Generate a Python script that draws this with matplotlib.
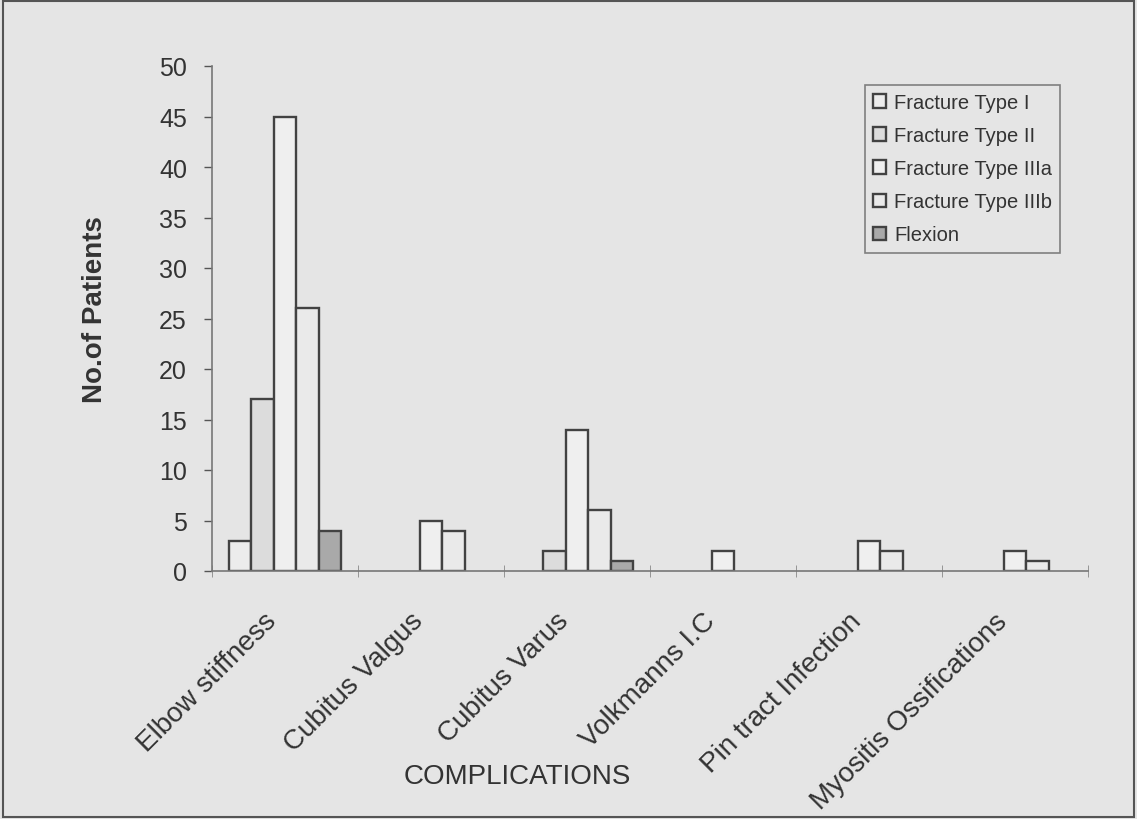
import numpy as np
import matplotlib
matplotlib.use("Agg")
import matplotlib.pyplot as plt
from matplotlib.transforms import ScaledTranslation
from matplotlib.patches import Rectangle

plt.rcParams['font.family'] = ['Liberation Sans', 'DejaVu Sans']

# 数据
categories = ["Elbow stiffness", "Cubitus Valgus", "Cubitus Varus",
              "Volkmanns I.C", "Pin tract Infection", "Myositis Ossifications"]
series_names = ["Fracture Type I", "Fracture Type II", "Fracture Type IIIa",
                "Fracture Type IIIb", "Flexion"]
type_i = [3, 0, 0, 0, 0, 0]
type_ii = [17, 0, 2, 0, 0, 0]
type_iiia = [45, 5, 14, 2, 3, 2]
type_iiib = [26, 4, 6, 0, 2, 1]
flexion = [4, 0, 1, 0, 0, 0]
yticks = [0, 5, 10, 15, 20, 25, 30, 35, 40, 45, 50]

series = [type_i, type_ii, type_iiia, type_iiib, flexion]
fills = ['#ececec', '#dcdcdc', '#efefef', '#eaeaea', '#a9a9a9']
bg = '#e5e5e5'
edge = '#424242'

fig = plt.figure(figsize=(11.37, 8.2), dpi=100, facecolor=bg)
ax = fig.add_axes([212/1137, 1-572/820, 876/1137, 505/820])
ax.set_facecolor(bg)

x = np.arange(len(categories))
w = 0.154
for i, (vals, name, fc) in enumerate(zip(series, series_names, fills)):
    vals = np.array(vals, dtype=float)
    keep = vals > 0          # 0值不画边框
    ax.bar(x[keep] + (i - 2) * w, vals[keep], width=w, color=fc,
           edgecolor=edge, linewidth=1.7, label=name)

ax.set_xlim(-0.5, len(categories) - 0.5)
ax.set_ylim(0, 50)
ax.set_yticks(yticks)
ax.tick_params(axis='y', labelsize=18, colors='#555555', labelcolor='#333333',
               length=6, width=1, pad=12)

for s in ['top', 'right']:
    ax.spines[s].set_visible(False)
for s in ['left', 'bottom']:
    ax.spines[s].set_color('#777777')
    ax.spines[s].set_linewidth(1.2)

# x轴：分隔刻度 + 斜标签
ax.set_xticks(x)
ax.set_xticks(np.arange(-0.5, len(categories)), minor=True)
ax.tick_params(axis='x', which='major', length=0, pad=33)
ax.tick_params(axis='x', which='minor', direction='inout', length=8,
               color='#888888')
ax.set_xticklabels(categories, rotation=45, ha='right', va='center',
                   rotation_mode='anchor', fontsize=20, color='#333333')
for lab in ax.get_xticklabels():
    lab.set_transform(lab.get_transform() +
                      ScaledTranslation(-0.12, 0, fig.dpi_scale_trans))

ax.set_ylabel("No.of Patients", fontsize=20, fontweight='bold', color='#333333')
ax.yaxis.set_label_coords(-0.134, 0.52)
ax.yaxis.label.set_va('center')
ax.set_xlabel("COMPLICATIONS", fontsize=20, color='#333333')
ax.xaxis.set_label_coords(0.348, -0.405)
ax.xaxis.label.set_va('center')

leg = ax.legend(loc='upper left', bbox_to_anchor=(865/1137, 1-86/820),
                bbox_transform=fig.transFigure, borderaxespad=0,
                fontsize=14.5, frameon=True, fancybox=False,
                handlelength=0.65, handleheight=0.65, handletextpad=0.4,
                labelspacing=0.7, borderpad=0.4)
leg.get_frame().set_facecolor(bg)
leg.get_frame().set_edgecolor('#666666')
leg.get_frame().set_linewidth(1.2)
for t in leg.get_texts():
    t.set_color('#333333')

# 外框
fig.patches.append(Rectangle((0.003, 0.003), 0.994, 0.994, transform=fig.transFigure,
                             fill=False, edgecolor='#555555', linewidth=1.5))

fig.savefig("out.png", dpi=100, facecolor=bg)
